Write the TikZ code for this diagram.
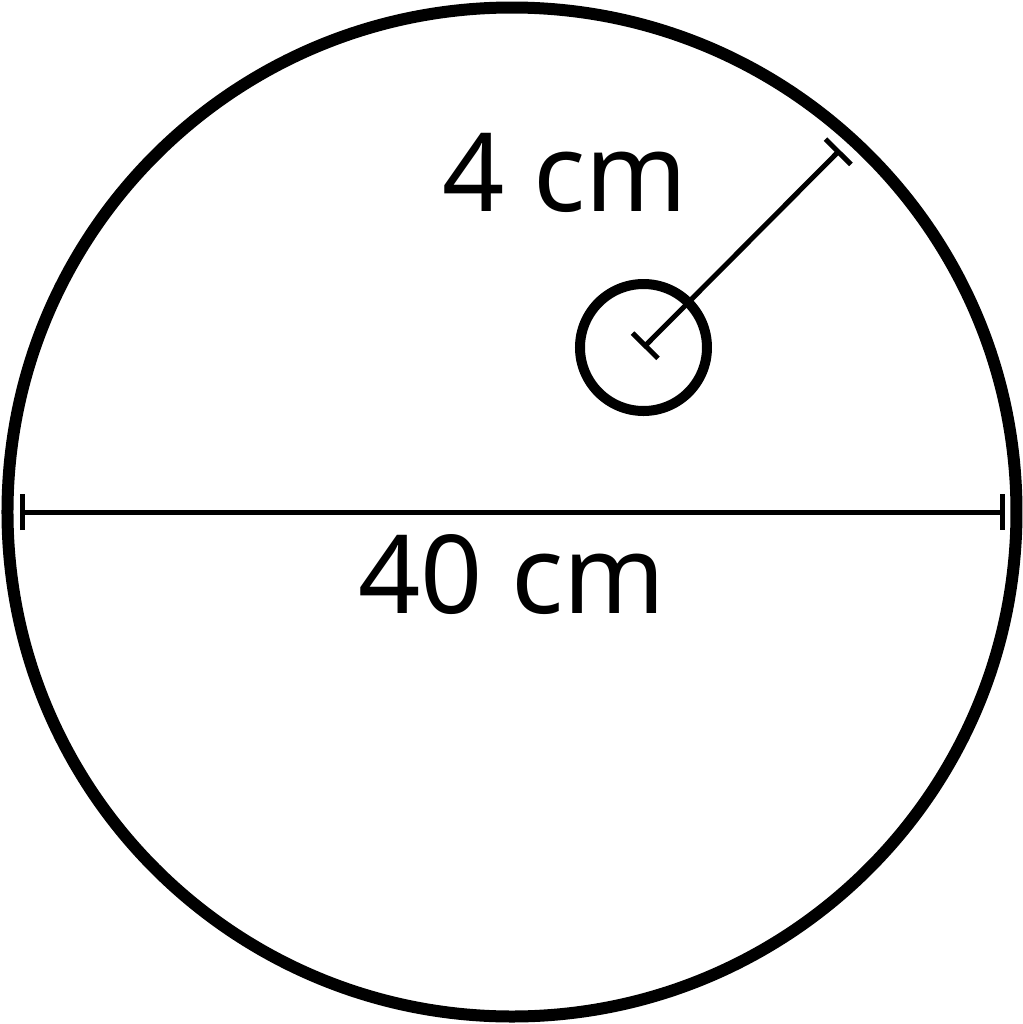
\documentclass[tikz,border=0pt]{standalone}
\usepackage{fontspec}
\setmainfont{Noto Sans}
\usetikzlibrary{arrows.meta,positioning,calc}

\begin{document}
\begin{tikzpicture}[ring/.style={draw, circle, inner sep=0pt},
    dimline/.style={line width=0.05cm, {Bar[width=0.36cm]}-{Bar[width=0.36cm]}},
    dimtext/.style={font=\fontsize{31}{36}\selectfont}]

        \useasboundingbox (-5.12,-5.12) rectangle (5.11,5.12);

        % Outer circle
        \node [ring, line width=0.12cm, minimum size=10.09cm] (Outer) at (0,0) {};

        % Hole
        \node [ring, line width=0.1cm, minimum size=1.27cm] (Hole) at (1.315,1.645) {};

        % Diameter
        \coordinate (Diam_left) at (-4.92,0);
        \coordinate (Diam_right) at (4.93,0);
        \node [dimtext] (Diam_label) at (0,-0.63) {40 cm};

        % Radius
        \coordinate (Rad_end) at (3.28,3.62);
        \node [dimtext] (Rad_label) at (0.53,3.39) {4 cm};

        % Dimension lines
        \draw [dimline] (Diam_left) -- (Diam_right);
        \draw [dimline] (Hole.center) -- (Rad_end);

    \end{tikzpicture}
\end{document}
